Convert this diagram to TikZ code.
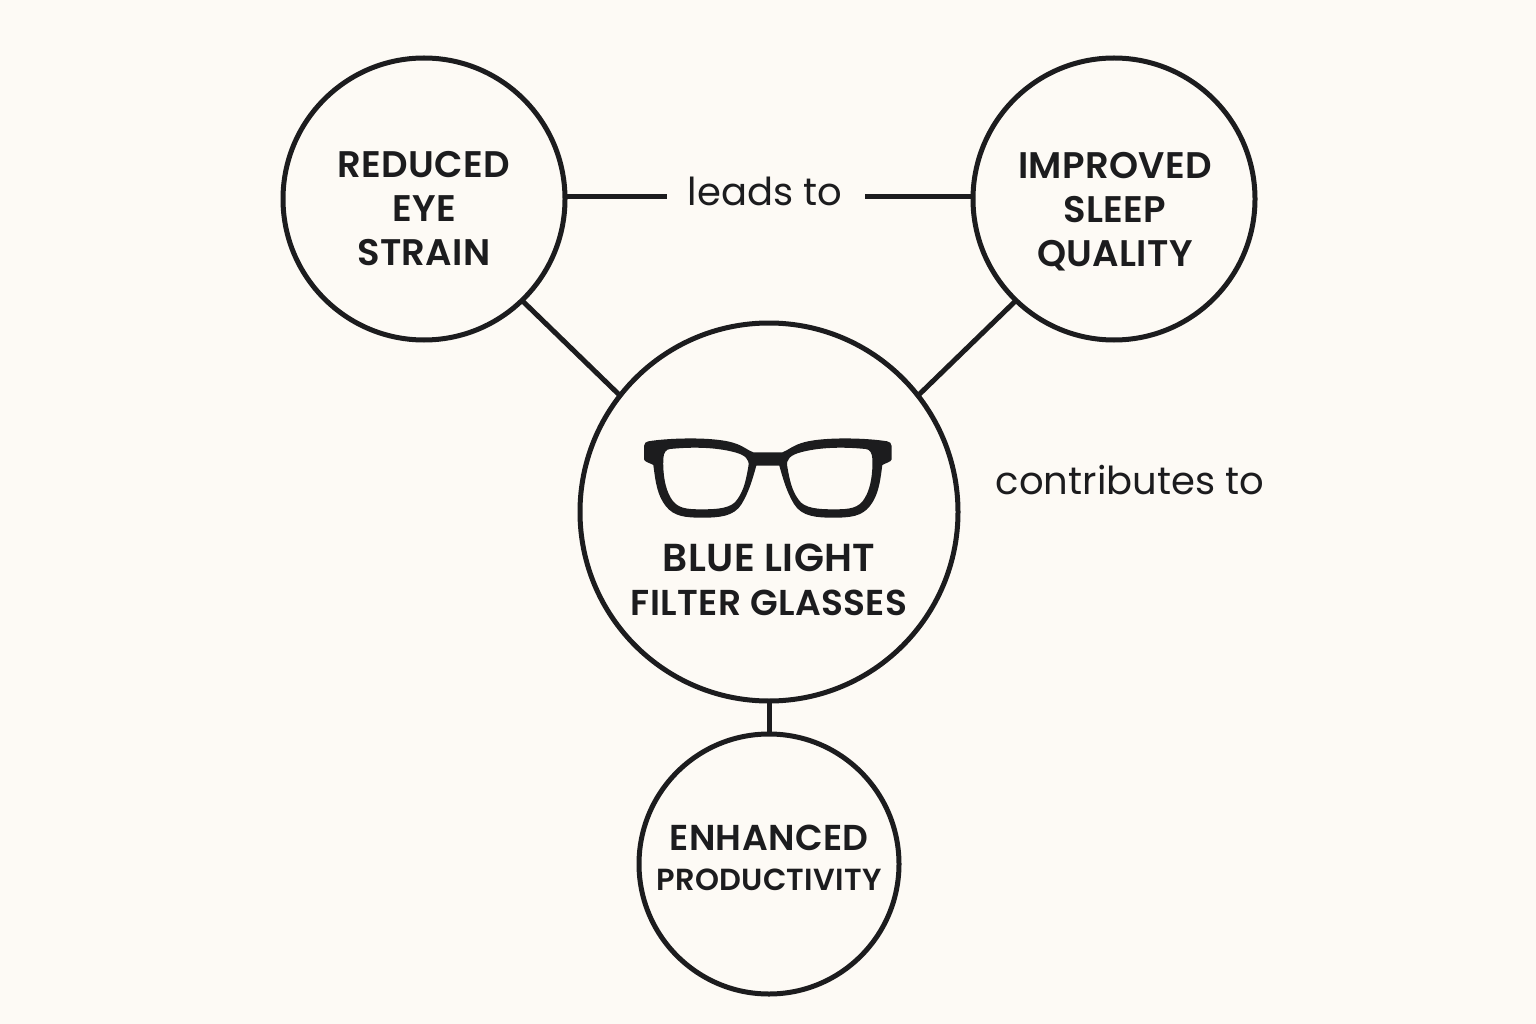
\documentclass[tikz,border=0pt]{standalone}
\usepackage{fontspec}
\setmainfont{Poppins}
\newfontfamily\lblfont[LetterSpace=1,BoldFont={Poppins SemiBold}]{Poppins}
\usetikzlibrary{calc}
\definecolor{ink}{HTML}{1C1C1E}
\definecolor{paper}{HTML}{FDFAF5}
\newcommand{\bigcaps}{\fontsize{37}{44}\selectfont\lblfont\bfseries}
\newcommand{\bluecaps}{\fontsize{39}{43}\selectfont\lblfont\bfseries}
\newcommand{\midcaps}{\fontsize{36}{43}\selectfont\lblfont\bfseries}
\newcommand{\smallcaps}{\fontsize{30.5}{40}\selectfont\lblfont\bfseries}
\tikzset{
  ring/.style={circle,draw=ink,line width=5pt,inner sep=0pt,outer sep=0pt,minimum size=#1},
  link/.style={draw=ink,line width=5pt},
  caption/.style={text=ink,align=center,inner sep=0pt,font=\bigcaps},
  phrase/.style={text=ink,inner sep=0pt,font=\fontsize{38.5}{50}\selectfont}
}
\begin{document}
\begin{tikzpicture}[x=1pt,y=-1pt]
\useasboundingbox[fill=paper] (0,0) rectangle (1536,1024);
\node[ring=282pt] (eye) at (424,199) {};
\node[ring=282pt] (sleep) at (1114,199) {};
\node[ring=378pt] (glasses) at (769,512) {};
\node[ring=260pt] (prod) at (769,864) {};
\node[caption] (eyet) at (424,209) {REDUCED\\EYE\\STRAIN};
\node[caption] (sleept) at (1115,211.5) {IMPROVED\\SLEEP\\QUALITY};
\node[caption] (glassest) at (769,580) {{\bluecaps BLUE LIGHT}\\{\midcaps FILTER GLASSES}};
\node[caption,font=\fontsize{36}{42}\selectfont\lblfont\bfseries] (prodt) at (769,858) {ENHANCED\\[-2pt]{\smallcaps PRODUCTIVITY}};
\node[phrase] (leads) at (765,191) {leads to};
\node[phrase] (contrib) at (1130,480) {contributes to};
\coordinate (leadsin) at (667,197);
\coordinate (leadsout) at (865,197);
\draw[link] (eye.east |- leadsin) -- (leadsin);
\draw[link] (leadsout) -- (sleep.west |- leadsout);
\draw[link] (eye.-46.4) -- (glasses.142.2);
\draw[link] (sleep.-134) -- (glasses.38);
\draw[link] (glasses.south) -- (prod.north);
\begin{scope}[shift={(620,420)},x=0.3333pt,y=-0.3333pt]
\fill[ink,even odd rule]
 (72,78) .. controls (72,70) and (78,65) .. (85,64)
 .. controls (150,53) and (290,50) .. (345,70)
 .. controls (370,78) and (385,92) .. (400,97)
 -- (487,97)
 .. controls (502,92) and (517,78) .. (542,70)
 .. controls (597,50) and (737,53) .. (802,64)
 .. controls (809,65) and (815,70) .. (815,78)
 -- (815,118)
 .. controls (815,125) and (795,130) .. (787,135)
 .. controls (780,190) and (775,225) .. (750,258)
 .. controls (725,290) and (690,293) .. (640,293)
 .. controls (590,293) and (545,290) .. (522,252)
 .. controls (500,215) and (490,180) .. (478,137)
 -- (409,137)
 .. controls (397,180) and (387,215) .. (365,252)
 .. controls (342,290) and (297,293) .. (247,293)
 .. controls (197,293) and (162,290) .. (137,258)
 .. controls (112,225) and (107,190) .. (100,135)
 .. controls (92,130) and (72,125) .. (72,118)
 -- cycle
 (150,87) .. controls (220,80) and (290,82) .. (345,97)
 .. controls (375,105) and (390,118) .. (385,140)
 .. controls (378,180) and (372,210) .. (352,238)
 .. controls (335,266) and (290,268) .. (245,268)
 .. controls (200,268) and (170,266) .. (152,233)
 .. controls (135,205) and (128,160) .. (130,115)
 .. controls (131,98) and (138,88) .. (150,87) -- cycle
 (737,87) .. controls (667,80) and (597,82) .. (542,97)
 .. controls (512,105) and (497,118) .. (502,140)
 .. controls (509,180) and (515,210) .. (535,238)
 .. controls (552,266) and (597,268) .. (642,268)
 .. controls (687,268) and (717,266) .. (735,233)
 .. controls (752,205) and (759,160) .. (757,115)
 .. controls (756,98) and (749,88) .. (737,87) -- cycle;
\end{scope}
\end{tikzpicture}
\end{document}
